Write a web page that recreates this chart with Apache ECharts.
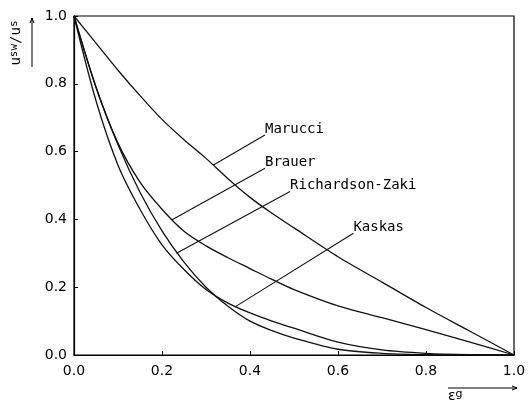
<!DOCTYPE html>
<html>
<head>
<meta charset="utf-8">
<script src="https://cdn.jsdelivr.net/npm/echarts@6/dist/echarts.min.js"></script>
<style>
html,body{margin:0;padding:0;background:#fff;}
#chart{width:530px;height:404px;}
</style>
</head>
<body>
<div id="chart"></div>
<script>
// x values (gas hold-up eps_g)
const eps = [0, 0.05, 0.1, 0.15, 0.2, 0.25, 0.3, 0.35, 0.4, 0.45, 0.5, 0.6, 0.7, 0.8, 0.9, 1.0];
// u_sw/u_s
const marucci = [1, 0.92, 0.84, 0.765, 0.695, 0.635, 0.58, 0.52, 0.465, 0.418, 0.375, 0.29, 0.215, 0.14, 0.07, 0];
const brauer  = [1, 0.79, 0.625, 0.51, 0.43, 0.365, 0.322, 0.287, 0.255, 0.223, 0.193, 0.145, 0.11, 0.075, 0.038, 0];
const richardsonZaki = [1, 0.79, 0.62, 0.48, 0.366, 0.274, 0.2, 0.144, 0.1, 0.072, 0.05, 0.017, 0.005, 0.001, 0.0001, 0];
const kaskas  = [1, 0.75, 0.56, 0.43, 0.325, 0.252, 0.193, 0.153, 0.124, 0.1, 0.079, 0.038, 0.015, 0.005, 0.001, 0];
const seriesNames = ['Marucci', 'Brauer', 'Richardson-Zaki', 'Kaskas'];
// leader lines: [point on curve, label anchor]
const marucciLeader = [[0.316, 0.56], [0.434, 0.649]];
const brauerLeader  = [[0.222, 0.398], [0.434, 0.551]];
const rzLeader      = [[0.233, 0.300], [0.491, 0.482]];
const kaskasLeader  = [[0.366, 0.142], [0.635, 0.359]];
const tickValues = [0, 0.2, 0.4, 0.6, 0.8, 1.0];

const curves = [marucci, brauer, richardsonZaki, kaskas];
const leaders = [marucciLeader, brauerLeader, rzLeader, kaskasLeader];

const chart = echarts.init(document.getElementById('chart'), null, {renderer: 'canvas'});

const axisCommon = {
  type: 'value', min: 0, max: 1, interval: 0.2,
  axisLine: {show: true, lineStyle: {color: '#000', width: 1.2}},
  axisTick: {show: true, inside: true, length: 4, lineStyle: {color: '#000', width: 1}},
  splitLine: {show: false},
  axisLabel: {color: '#000', fontFamily: 'DejaVu Sans', fontSize: 14, formatter: v => v.toFixed(1)}
};

const series = [];
curves.forEach((c, k) => {
  series.push({
    type: 'line', name: seriesNames[k], silent: true,
    data: eps.map((x, i) => [x, c[i]]),
    smooth: 0.3, showSymbol: false, symbol: 'none',
    lineStyle: {color: '#111', width: 1.3}
  });
});
leaders.forEach((l, k) => {
  series.push({
    type: 'line', name: seriesNames[k] + ' label', silent: true,
    data: l, showSymbol: false, symbol: 'none',
    lineStyle: {color: '#111', width: 1.1},
    endLabel: {show: true, formatter: () => seriesNames[k], color: '#000',
      fontFamily: 'DejaVu Sans Mono', fontSize: 14, distance: 0, offset: [0, -6]}
  });
});

chart.setOption({
  animation: false,
  backgroundColor: '#fff',
  grid: {left: 74, right: 16, top: 16, bottom: 49, show: true, borderColor: '#000', borderWidth: 1.2, backgroundColor: 'transparent'},
  xAxis: Object.assign({}, axisCommon, {axisLabel: Object.assign({}, axisCommon.axisLabel, {margin: 9})}),
  yAxis: Object.assign({}, axisCommon, {axisLabel: Object.assign({}, axisCommon.axisLabel, {margin: 7})}),
  series: series,
  graphic: [
    {type: 'text', x: 21, y: 43, rotation: Math.PI / 2,
     style: {text: '{m|u}{s|sw}{m|/u}{s|s}', align: 'center', verticalAlign: 'middle',
       rich: {m: {fontFamily: 'DejaVu Sans Mono', fontSize: 14, lineHeight: 14, verticalAlign: 'top', fill: '#000'},
              s: {fontFamily: 'DejaVu Sans Mono', fontSize: 11, lineHeight: 24, verticalAlign: 'top', fill: '#000'}}}},
    {type: 'line', shape: {x1: 32, y1: 67, x2: 32, y2: 18}, style: {stroke: '#000', lineWidth: 1}},
    {type: 'polyline', shape: {points: [[30, 23], [32, 18], [34, 23]]}, style: {stroke: '#000', lineWidth: 1, fill: null}},
    {type: 'line', shape: {x1: 448, y1: 388, x2: 517, y2: 388}, style: {stroke: '#000', lineWidth: 1}},
    {type: 'polyline', shape: {points: [[512, 386], [517, 388], [512, 390]]}, style: {stroke: '#000', lineWidth: 1, fill: null}},
    {type: 'text', x: 448, y: 389,
     style: {text: '{m|ε}{s|g}', align: 'left', verticalAlign: 'top',
       rich: {m: {fontFamily: 'DejaVu Sans', fontSize: 14, lineHeight: 12, verticalAlign: 'top', fill: '#000'},
              s: {fontFamily: 'DejaVu Sans', fontSize: 11, lineHeight: 22, verticalAlign: 'top', fill: '#000'}}}}
  ]
});
</script>
</body>
</html>
